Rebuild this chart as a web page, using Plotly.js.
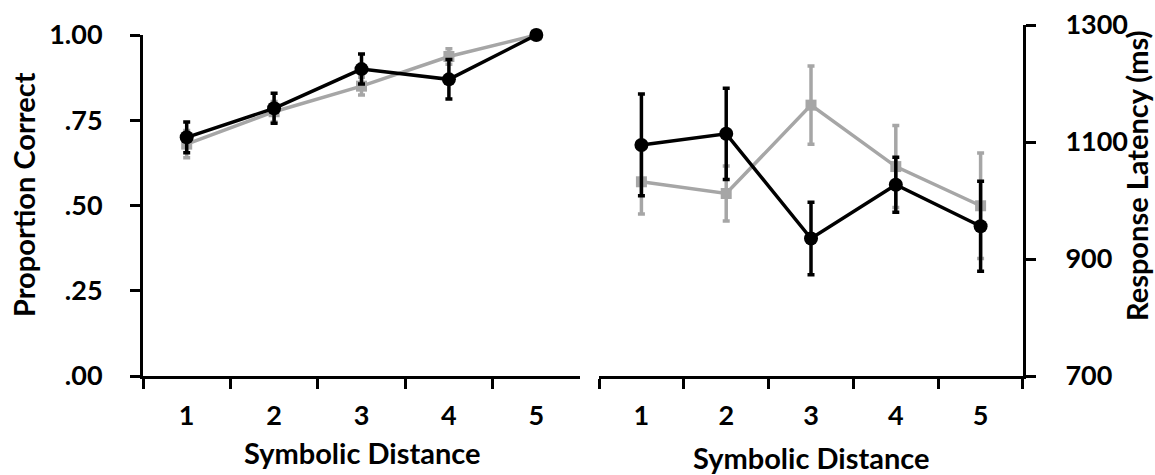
<!DOCTYPE html>
<html><head><meta charset="utf-8">
<script src="https://cdn.plot.ly/plotly-3.0.1.min.js"></script>
<style>html,body{margin:0;padding:0;background:#fff}</style>
</head><body><div id="chart" style="width:1155px;height:475px"></div>
<script>
const categories = ['1', '2', '3', '4', '5'];
const accBlack = [0.70, 0.785, 0.90, 0.87, 1.00];
const accBlackErr = [0.045, 0.044, 0.044, 0.058, 0];
const accGray = [0.68, 0.775, 0.85, 0.937, 1.00];
const accGrayErr = [0.04, 0.03, 0.026, 0.023, 0];
const rtBlack = [1095, 1114, 935, 1027, 956];
const rtBlackErr = [87, 78, 62, 47, 77];
const rtGray = [1032, 1012, 1163, 1058, 991];
const rtGrayErr = [55, 47, 67, 70, 90];
const yTicksLeft = [0, 0.25, 0.5, 0.75, 1];
const yTickTextLeft = ['.00', '.25', '.50', '.75', '1.00'];
const yTicksRight = [700, 900, 1100, 1300];
const xTitle = 'Symbolic Distance';
const yTitleLeft = 'Proportion Correct';
const yTitleRight = 'Response Latency (ms)';

const FONT = 'Lato, "Open Sans", "DejaVu Sans", sans-serif';
const GRAY = '#a6a6a6';
const BLACK = '#000000';

function series(xa, ya, y, err, color, symbol, size) {
  return {
    type: 'scatter', mode: 'lines+markers', xaxis: xa, yaxis: ya,
    x: categories, y: y,
    line: {color: color, width: 3.5},
    marker: {color: color, symbol: symbol, size: size},
    error_y: {type: 'data', array: err, visible: true, color: color, thickness: 3.5, width: 3.5},
    showlegend: false, cliponaxis: false
  };
}

const data = [
  series('x', 'y', accGray, accGrayErr, GRAY, 'square', 11),
  series('x', 'y', accBlack, accBlackErr, BLACK, 'circle', 14),
  series('x2', 'y2', rtGray, rtGrayErr, GRAY, 'square', 11),
  series('x2', 'y2', rtBlack, rtBlackErr, BLACK, 'circle', 14)
];

const tickFont = {family: FONT, size: 27, color: '#000', weight: 'bold'};
const titleFont = {family: FONT, size: 29, color: '#000', weight: 'bold'};

const xCommon = {
  type: 'category', range: [-0.5, 4.5], tickson: 'boundaries',
  ticks: 'outside', ticklen: 10, tickwidth: 3, tickcolor: '#000',
  showline: true, linewidth: 3, linecolor: '#000',
  showgrid: false, zeroline: false, tickfont: tickFont, fixedrange: true,
  ticklabelstandoff: 14
};
const yCommon = {
  ticks: 'outside', ticklen: 10, tickwidth: 3, tickcolor: '#000',
  showline: true, linewidth: 3, linecolor: '#000',
  showgrid: false, zeroline: false, tickfont: tickFont, fixedrange: true
};

function title(text, x, y) {
  return {text: text, xref: 'paper', yref: 'paper', x: x, y: y, showarrow: false,
    font: titleFont, xanchor: 'center', yanchor: 'middle'};
}

const layout = {
  width: 1155, height: 475,
  margin: {l: 143, r: 132, t: 25, b: 99},
  paper_bgcolor: '#fff', plot_bgcolor: '#fff',
  xaxis: Object.assign({}, xCommon, {domain: [0, 0.4966], anchor: 'y'}),
  xaxis2: Object.assign({}, xCommon, {domain: [0.5182, 1], anchor: 'y2'}),
  yaxis: Object.assign({}, yCommon, {domain: [0, 0.9715], anchor: 'x', range: [0, 1],
    tickvals: yTicksLeft, ticktext: yTickTextLeft, ticklabelstandoff: 22}),
  yaxis2: Object.assign({}, yCommon, {domain: [0, 1], anchor: 'x2', side: 'right', range: [700, 1300],
    tickvals: yTicksRight, ticklabelstandoff: 24}),
  annotations: [
    title(xTitle, 0.2483, -0.217),
    title(xTitle, 0.759, -0.233),
    Object.assign(title(yTitleLeft, -0.1352, 0.5157), {textangle: -90}),
    Object.assign(title(yTitleRight, 1.1284, 0.5726), {textangle: -90})
  ]
};

Plotly.newPlot('chart', data, layout, {displayModeBar: false, staticPlot: true});
</script></body></html>
